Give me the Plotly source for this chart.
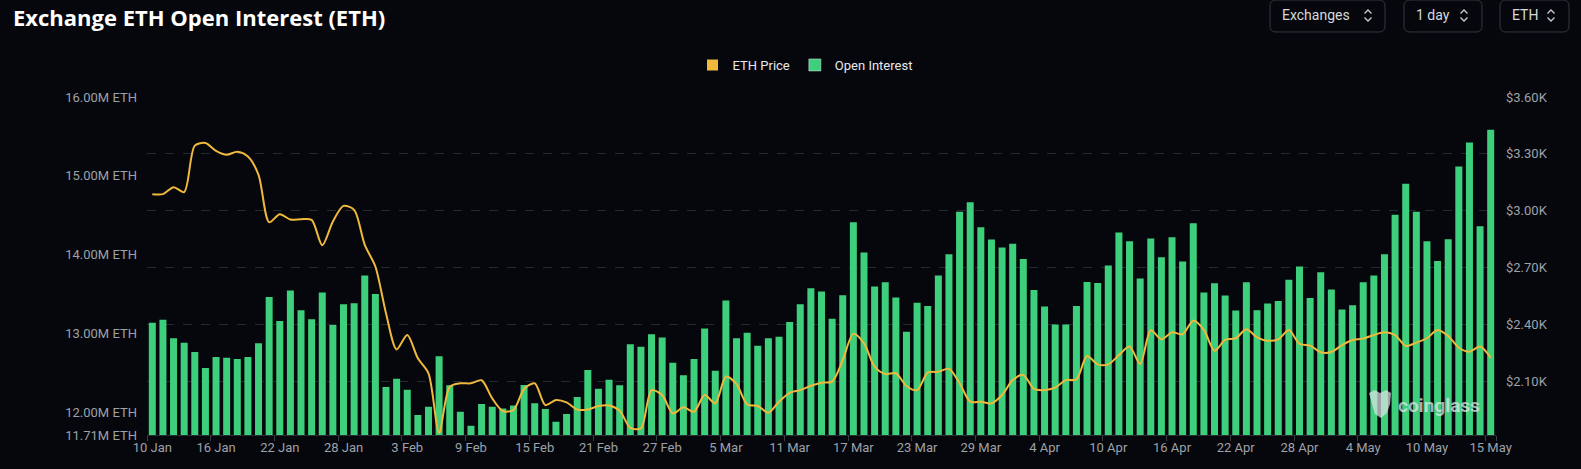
import pandas as pd
import plotly.graph_objects as go

# ---------------- data ----------------
dates = pd.date_range("2025-01-10", periods=127, freq="D")
categories = [d.strftime("%-d %b") for d in dates]

open_interest_m = [
    13.136, 13.174, 12.937, 12.882, 12.764, 12.560, 12.700, 12.692, 12.675, 12.700,
    12.874, 13.462, 13.157, 13.543, 13.293, 13.179, 13.518, 13.107, 13.369, 13.382,
    13.734, 13.501, 12.319, 12.425, 12.285, 11.963, 12.069, 12.709, 12.340, 12.005,
    11.828, 12.103, 12.069, 12.047, 12.085, 12.344, 12.112, 12.039, 11.878, 11.976,
    12.192, 12.535, 12.298, 12.412, 12.340, 12.861, 12.831, 12.988, 12.946, 12.628,
    12.467, 12.675, 13.061, 12.527, 13.416, 12.937, 13.009, 12.844, 12.937, 12.958,
    13.145, 13.369, 13.573, 13.530, 13.187, 13.484, 14.411, 14.026, 13.594, 13.649,
    13.454, 13.022, 13.390, 13.348, 13.734, 14.005, 14.543, 14.665, 14.348, 14.191,
    14.089, 14.136, 13.945, 13.551, 13.340, 13.111, 13.111, 13.348, 13.653, 13.640,
    13.861, 14.280, 14.170, 13.695, 14.204, 13.966, 14.221, 13.911, 14.399, 13.518,
    13.636, 13.479, 13.289, 13.649, 13.293, 13.378, 13.412, 13.679, 13.848, 13.450,
    13.776, 13.556, 13.302, 13.357, 13.649, 13.734, 14.005, 14.504, 14.898, 14.543,
    14.170, 13.920, 14.195, 15.119, 15.424, 14.360, 15.584,
]
open_interest = [v * 1e6 for v in open_interest_m]

eth_price = [
    3087, 3087, 3124, 3098, 3343, 3357, 3316, 3295, 3311, 3286,
    3189, 2939, 2981, 2953, 2955, 2951, 2817, 2943, 3025, 3004,
    2819, 2705, 2458, 2267, 2343, 2220, 2141, 1827, 2070, 2088,
    2088, 2104, 2008, 1941, 1947, 2058, 2088, 1973, 2000, 1987,
    1950, 1950, 1968, 1971, 1943, 1853, 1850, 2052, 2026, 1929,
    1961, 1938, 2026, 1982, 2123, 2084, 1977, 1968, 1933, 1991,
    2038, 2052, 2075, 2091, 2097, 2211, 2349, 2299, 2176, 2137,
    2141, 2074, 2052, 2144, 2149, 2165, 2088, 1991, 1991, 1982,
    2026, 2105, 2132, 2058, 2052, 2065, 2105, 2109, 2232, 2188,
    2188, 2237, 2282, 2190, 2368, 2320, 2357, 2347, 2419, 2370,
    2260, 2317, 2326, 2373, 2331, 2313, 2320, 2370, 2296, 2287,
    2252, 2253, 2290, 2317, 2324, 2343, 2357, 2343, 2285, 2303,
    2326, 2370, 2338, 2276, 2255, 2282, 2223,
]

x_tick_idx = list(range(0, 127, 6))
x_tick_text = ["10 Jan", "16 Jan", "22 Jan", "28 Jan", "3 Feb", "9 Feb", "15 Feb",
               "21 Feb", "27 Feb", "5 Mar", "11 Mar", "17 Mar", "23 Mar", "29 Mar",
               "4 Apr", "10 Apr", "16 Apr", "22 Apr", "28 Apr", "4 May", "10 May",
               "15 May"]

left_tick_vals = [11.71e6, 12e6, 13e6, 14e6, 15e6, 16e6]
left_tick_text = ["11.71M ETH", "12.00M ETH", "13.00M ETH", "14.00M ETH",
                  "15.00M ETH", "16.00M ETH"]
right_tick_vals = [2100, 2400, 2700, 3000, 3300, 3600]
right_tick_text = ["$2.10K", "$2.40K", "$2.70K", "$3.00K", "$3.30K", "$3.60K"]

# ---------------- style ----------------
BG = "#05070c"
GREEN = "#3ecf7c"
GOLD = "#f0b93b"
TICK_COL = "#9ea1a8"
FONT = "Roboto, Noto Sans, sans-serif"

W, H = 1581, 469
L, R, T, B = 147, 85, 97, 34
PW, PH = W - L - R, H - T - B


def px(x, y):
    return (x - L) / PW, (H - B - y) / PH


def P(x, y):
    a, b = px(x, y)
    return f"{a:.5f},{b:.5f}"


def rounded_rect(x0, y0, x1, y1, r):
    return (f"M{P(x0 + r, y0)} L{P(x1 - r, y0)} Q{P(x1, y0)} {P(x1, y0 + r)} "
            f"L{P(x1, y1 - r)} Q{P(x1, y1)} {P(x1 - r, y1)} L{P(x0 + r, y1)} "
            f"Q{P(x0, y1)} {P(x0, y1 - r)} L{P(x0, y0 + r)} Q{P(x0, y0)} {P(x0 + r, y0)} Z")


def chevrons(cx, cy):
    up = f"M{P(cx - 3.5, cy - 2)} L{P(cx, cy - 5.5)} L{P(cx + 3.5, cy - 2)}"
    dn = f"M{P(cx - 3.5, cy + 2)} L{P(cx, cy + 5.5)} L{P(cx + 3.5, cy + 2)}"
    return [up, dn]


fig = go.Figure()

fig.add_trace(go.Bar(
    x=categories, y=open_interest, name="Open Interest",
    marker=dict(color=GREEN, line=dict(width=0)),
    yaxis="y", showlegend=False,
))
fig.add_trace(go.Scatter(
    x=categories, y=eth_price, name="ETH Price", mode="lines",
    line=dict(color=GOLD, width=2, shape="spline", smoothing=0.8),
    yaxis="y2", showlegend=False,
))
# legend entries (square swatches)
fig.add_trace(go.Scatter(
    x=[None], y=[None], name="ETH Price", mode="markers",
    marker=dict(symbol="square", size=11, color=GOLD), yaxis="y2",
))
fig.add_trace(go.Bar(
    x=[None], y=[None], name="Open Interest", marker=dict(color=GREEN),
))

shapes = []
annotations = []

# title
tx, ty = px(11, 17)
annotations.append(dict(text="<b>Exchange ETH Open Interest (ETH)</b>", x=tx, y=ty,
                        xref="paper", yref="paper", xanchor="left", yanchor="middle",
                        showarrow=False,
                        font=dict(family="Open Sans, Noto Sans, sans-serif", size=22,
                                  color="#ffffff")))

# selector buttons
buttons = [("Exchanges", 1270, 1385, 1368), ("1 day", 1404, 1482, 1464), ("ETH", 1500, 1569, 1551)]
for label, x0, x1, chx in buttons:
    shapes.append(dict(type="path", path=rounded_rect(x0, 0, x1, 32, 6), xref="paper", yref="paper",
                       line=dict(color="#34373e", width=1), fillcolor="rgba(0,0,0,0)"))
    lx, ly = px(x0 + 10, 15.5)
    annotations.append(dict(text=label, x=lx, y=ly, xref="paper", yref="paper",
                            xanchor="left", yanchor="middle", showarrow=False,
                            font=dict(family=FONT, size=14, color="#d6d8dc")))
    for p in chevrons(chx, 15.5):
        shapes.append(dict(type="path", path=p, xref="paper", yref="paper",
                           line=dict(color="#c9ccd1", width=1.3)))

# watermark (logo glyph + text)
shapes.append(dict(type="path",
                   path=(f"M{P(1369, 393)} L{P(1375, 390)} L{P(1380, 393)} L{P(1386, 390)} "
                         f"L{P(1391, 393)} L{P(1390, 404)} L{P(1387, 413)} L{P(1381, 418)} "
                         f"L{P(1375, 414)} L{P(1372, 404)} Z"),
                   xref="paper", yref="paper", line=dict(width=0),
                   fillcolor="rgba(225,228,232,0.7)"))
wx, wy = px(1396, 405)
annotations.append(dict(text="<b>coinglass</b>", x=wx, y=wy, xref="paper", yref="paper",
                        xanchor="left", yanchor="middle", showarrow=False,
                        font=dict(family=FONT, size=19, color="rgba(225,228,232,0.75)")))

lgx, lgy = px(805, 65)

fig.update_layout(
    width=W, height=H,
    margin=dict(l=L, r=R, t=T, b=B, pad=0),
    paper_bgcolor=BG, plot_bgcolor=BG,
    font=dict(family=FONT, color=TICK_COL, size=13),
    bargap=0.34,
    showlegend=True,
    legend=dict(orientation="h", x=lgx, y=lgy, xanchor="center", yanchor="middle",
                bgcolor="rgba(0,0,0,0)", font=dict(family=FONT, size=13, color="#e8e9eb"),
                itemwidth=30, traceorder="normal"),
    xaxis=dict(type="category", categoryorder="array", categoryarray=categories,
               tickmode="array", tickvals=[categories[i] for i in x_tick_idx],
               ticktext=x_tick_text, tickson="boundaries", tickangle=0,
               ticks="outside", ticklen=5, tickcolor="#3a3d44",
               showline=True, linecolor="#2a2d33", linewidth=1,
               showgrid=False, tickfont=dict(size=13, color=TICK_COL),
               range=[-0.5, 126.5], fixedrange=True),
    yaxis=dict(range=[11.71e6, 16.0e6], tickmode="array", tickvals=left_tick_vals,
               ticktext=left_tick_text, showgrid=False, zeroline=False,
               ticks="", ticklabelstandoff=9, tickfont=dict(size=13, color=TICK_COL)),
    yaxis2=dict(range=[1815, 3600], overlaying="y", side="right",
                tickmode="array", tickvals=right_tick_vals, ticktext=right_tick_text,
                showgrid=True, gridcolor="#262930", griddash="dash", gridwidth=1,
                zeroline=False, ticks="", ticklabelstandoff=9,
                tickfont=dict(size=13, color=TICK_COL)),
    shapes=shapes,
    annotations=annotations,
)

fig.write_html("out.html")
